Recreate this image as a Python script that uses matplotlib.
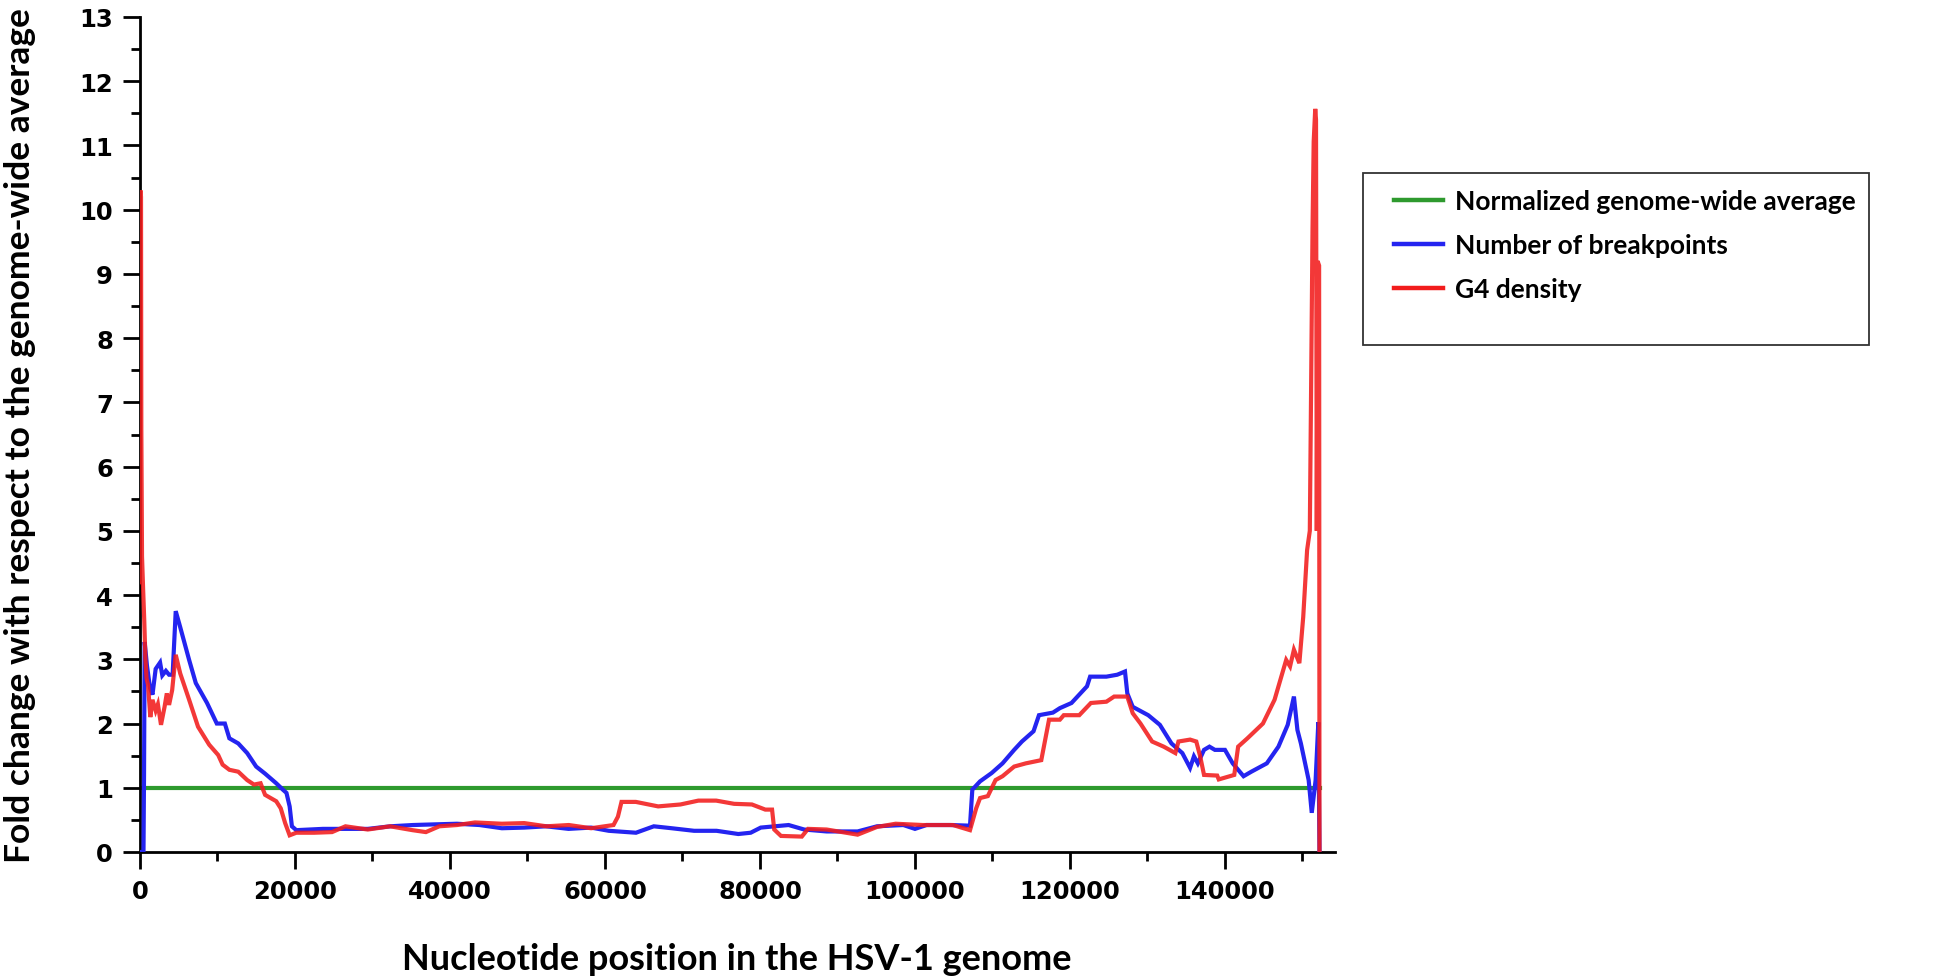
import matplotlib
matplotlib.use("Agg")
import matplotlib.pyplot as plt
from matplotlib.patches import Rectangle
from matplotlib.ticker import MultipleLocator

# ---------------- data ----------------
avg_x = [0, 152200]
avg_y = [1, 1]

bp_x = [0, 450, 520, 600, 900, 1300, 1610, 2020, 2590, 2880, 3340, 3750, 4210,
        4610, 5190, 6340, 7200, 8650, 9910, 10950, 11530, 12680, 13830, 14990,
        16140, 17580, 18440, 18900, 19310, 19600, 20170, 23600, 26500, 29400,
        32300, 35200, 38000, 40900, 43800, 46700, 49600, 52400, 55300, 58200,
        60500, 64000, 66300, 68600, 71500, 74400, 77200, 78800, 80100, 83700,
        85700, 88600, 92600, 95100, 98500, 100000, 101500, 104500, 107100,
        107400, 108400, 109900, 111300, 112800, 113800, 115300, 116000, 117800,
        118700, 120200, 121200, 122200, 122600, 124700, 126100, 127100, 127400,
        128100, 130100, 131600, 133100, 134500, 135500, 136000, 136500, 137300,
        138000, 138700, 140000, 141000, 142400, 143400, 145400, 146900, 148100,
        148900, 149350, 149800, 150800, 151200, 151700, 152050, 152200]
bp_y = [0, 0, 1.2, 3.27, 2.9, 2.55, 2.45, 2.85, 2.95, 2.75, 2.82, 2.76, 2.76,
        3.75, 3.5, 2.99, 2.63, 2.32, 2.0, 2.0, 1.77, 1.69, 1.54, 1.33,
        1.22, 1.07, 0.97, 0.92, 0.71, 0.40, 0.34, 0.36, 0.36, 0.36,
        0.40, 0.42, 0.43, 0.44, 0.42, 0.37, 0.38, 0.40, 0.36, 0.38,
        0.33, 0.30, 0.40, 0.37, 0.33, 0.33, 0.28, 0.30, 0.38, 0.42,
        0.35, 0.32, 0.32, 0.40, 0.42, 0.36, 0.42, 0.42, 0.41,
        0.97, 1.10, 1.23, 1.38, 1.59, 1.72, 1.88, 2.13, 2.17,
        2.24, 2.32, 2.45, 2.58, 2.73, 2.73, 2.76, 2.81, 2.47,
        2.26, 2.13, 1.98, 1.69, 1.54, 1.31, 1.49, 1.38, 1.59,
        1.64, 1.59, 1.59, 1.38, 1.18, 1.25, 1.38, 1.64, 1.98,
        2.42, 1.90, 1.69, 1.12, 0.61, 1.12, 2.02, 0]

g4_x = [0, 60, 130, 170, 260, 400, 550, 700, 850, 1040, 1330, 1610, 2020,
        2310, 2710, 3170, 3460, 3750, 4150, 4610, 5190, 6340, 7490, 8930,
        10090, 10660, 11530, 12680, 13830, 14700, 15560, 16140, 17580, 18160,
        18730, 19310, 20170, 22480, 24780, 26510, 29390, 32280, 35160, 36890,
        38620, 40920, 43230, 46690, 49570, 52450, 55330, 58210, 61100, 61670,
        62130, 63980, 66860, 69740, 72050, 74350, 76660, 78960, 80690, 81560,
        81840, 82710, 85400, 86200, 88600, 92600, 95100, 97500, 101000, 104900,
        107100, 107900, 108400, 109400, 110400, 111300, 112800, 114300, 116300,
        117300, 118700, 119200, 121200, 122700, 124700, 125700, 127400, 128100,
        129100, 130600, 132100, 133600, 134000, 135500, 136300, 136800, 137300,
        139000, 139200, 141200, 141700, 142900, 144900, 146400, 147900, 148400,
        148900, 149600, 150100, 150600, 150950, 151100, 151300, 151450, 151650,
        151750, 151850, 151950, 152150, 152200]
g4_y = [4.2, 10.3, 10.2, 6.6, 4.6, 4.1, 3.6, 3.0, 2.7, 2.6, 2.1, 2.37, 2.2,
        2.3, 1.98, 2.26, 2.47, 2.29, 2.52, 3.07, 2.78, 2.37, 1.95, 1.67,
        1.51, 1.36, 1.28, 1.25, 1.12, 1.05, 1.07, 0.89, 0.79, 0.68,
        0.45, 0.26, 0.30, 0.30, 0.31, 0.40, 0.35, 0.40, 0.34, 0.31,
        0.40, 0.42, 0.46, 0.44, 0.45, 0.40, 0.42, 0.37, 0.42, 0.55,
        0.78, 0.78, 0.71, 0.74, 0.80, 0.80, 0.75, 0.74, 0.66, 0.66,
        0.35, 0.25, 0.24, 0.36, 0.35, 0.27, 0.39, 0.44, 0.42, 0.42,
        0.34, 0.68, 0.84, 0.87, 1.12, 1.18, 1.33, 1.38, 1.43,
        2.06, 2.06, 2.13, 2.13, 2.32, 2.34, 2.42, 2.42, 2.16,
        2.0, 1.72, 1.64, 1.54, 1.72, 1.75, 1.72, 1.49, 1.20,
        1.19, 1.13, 1.20, 1.64, 1.77, 2.0, 2.37, 2.99, 2.89,
        3.15, 2.94, 3.66, 4.7, 5.0, 7.0, 9.7, 11.06, 11.57,
        11.4, 5.0, 9.2, 9.13, 0]

x_ticks = [0, 20000, 40000, 60000, 80000, 100000, 120000, 140000]
y_ticks = list(range(0, 14))
labels = ["Normalized genome-wide average", "Number of breakpoints", "G4 density"]

# ---------------- figure ----------------
W, H = 1946, 978
fig = plt.figure(figsize=(W / 100, H / 100), dpi=100)
ax = fig.add_axes([140 / W, 1 - 853 / H, (1335 - 140) / W, (853 - 18) / H])

lw = 3.0
l1, = ax.plot(avg_x, avg_y, color="#2E9A2E", lw=lw, label=labels[0], zorder=2)
l2, = ax.plot(bp_x, bp_y, color="#2424F0", lw=lw, label=labels[1], zorder=3,
              solid_joinstyle="miter")
l3, = ax.plot(g4_x, g4_y, color="#F21C1C", lw=lw, alpha=0.88, label=labels[2],
              zorder=4, solid_joinstyle="miter")

ax.set_xlim(0, 154200)
ax.set_ylim(0, 13)
for s in ["top", "right"]:
    ax.spines[s].set_visible(False)
for s in ["left", "bottom"]:
    ax.spines[s].set_linewidth(2.0)

ax.set_xticks(x_ticks)
ax.set_xticklabels([str(v) for v in x_ticks])
ax.set_yticks(y_ticks)
ax.set_yticklabels([str(v) for v in y_ticks])
ax.xaxis.set_minor_locator(MultipleLocator(10000))
ax.yaxis.set_minor_locator(MultipleLocator(0.5))
ax.tick_params(which="major", direction="out", length=12.5, width=2.0,
               labelsize=17.5, pad=7)
ax.tick_params(which="minor", direction="out", length=6.5, width=2.0)
for t in ax.get_xticklabels() + ax.get_yticklabels():
    t.set_fontfamily("DejaVu Sans")
    t.set_fontweight("bold")

fig.text(737 / W, 1 - 960 / H, "Nucleotide position in the HSV-1 genome",
         ha="center", va="center", family="Lato", weight="bold", size=26)
fig.text(20 / W, 1 - 436 / H, "Fold change with respect to the genome-wide average",
         ha="center", va="center", rotation=90, family="Lato", weight="bold",
         size=25.5)

# legend box
fig.patches.append(Rectangle((1363 / W, 1 - 346 / H), (1869 - 1363) / W,
                             (346 - 174) / H, transform=fig.transFigure,
                             fill=False, edgecolor="#333333", lw=1.3))
leg = fig.legend(handles=[l1, l2, l3], labels=labels, loc="upper left",
                 bbox_to_anchor=(1394 / W, 1 - 190 / H),
                 bbox_transform=fig.transFigure, frameon=False,
                 prop=dict(family="Lato", weight="bold", size=19),
                 handlelength=1.85, handletextpad=0.45, labelspacing=0.76,
                 borderpad=0, borderaxespad=0)
for h in leg.get_lines():
    h.set_linewidth(3.2)
    h.set_alpha(1)

fig.savefig("out.png", dpi=100)
